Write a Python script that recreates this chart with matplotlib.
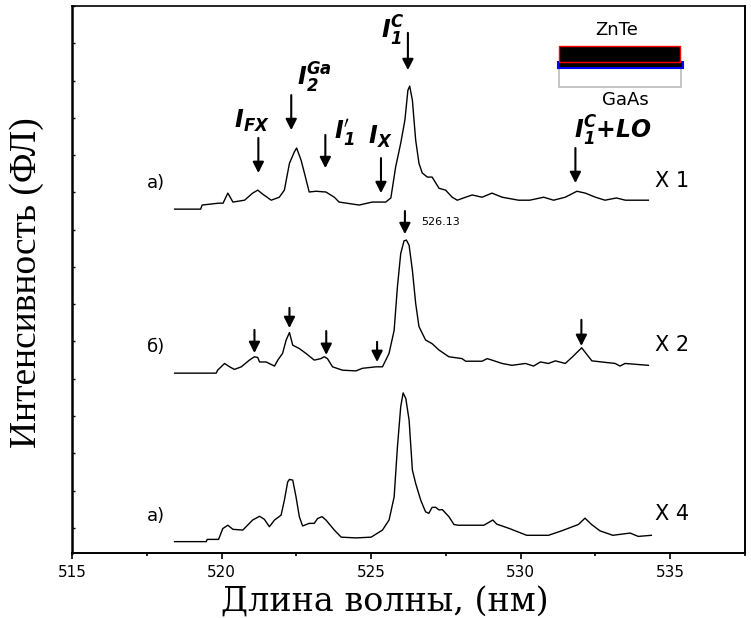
import matplotlib
matplotlib.use("Agg")
import matplotlib.pyplot as plt
from matplotlib.patches import Rectangle
from matplotlib.ticker import MultipleLocator

plt.rcParams['mathtext.fontset'] = 'dejavusans'

# photoluminescence spectra of ZnTe/GaAs, wavelength (nm) vs intensity (arb. units)
top_wl = [518.43, 519.30, 519.35, 519.90, 520.05, 520.21, 520.38, 520.77, 521.04, 521.21,
          521.38, 521.66, 521.93, 522.10, 522.27, 522.43, 522.51, 522.66, 522.77, 522.93,
          523.16, 523.49, 523.77, 523.93, 524.60, 525.04, 525.49, 525.66, 525.82, 525.99,
          526.13, 526.23, 526.29, 526.38, 526.49, 526.60, 526.71, 526.88, 527.04, 527.27,
          527.49, 527.71, 527.88, 528.16, 528.38, 528.71, 529.04, 529.38, 529.93, 530.30,
          530.77, 531.10, 531.49, 531.88, 532.16, 532.50, 532.82, 533.20, 533.50, 534.27]
top_int = [0, 0, 11, 16, 16, 43, 19, 24, 43, 51,
           40, 24, 32, 51, 123, 153, 164, 131, 97, 46,
           48, 46, 32, 19, 11, 19, 19, 30, 113, 177,
           239, 319, 330, 292, 185, 123, 97, 86, 86, 56,
           51, 32, 24, 32, 38, 32, 43, 32, 24, 24,
           32, 24, 32, 48, 43, 32, 24, 30, 24, 24]

mid_wl = [518.43, 519.82, 519.87, 520.10, 520.27, 520.43, 520.66, 520.93, 521.10, 521.21,
          521.27, 521.49, 521.77, 521.88, 522.04, 522.16, 522.27, 522.38, 522.60, 522.82,
          523.10, 523.32, 523.43, 523.54, 523.71, 524.04, 524.49, 524.71, 525.16, 525.38,
          525.60, 525.77, 525.88, 525.99, 526.10, 526.18, 526.27, 526.38, 526.49, 526.60,
          526.82, 527.04, 527.27, 527.60, 528.04, 528.16, 528.71, 528.88, 529.04, 529.38,
          529.71, 530.16, 530.43, 530.66, 530.93, 531.16, 531.49, 531.71, 532.04, 532.38,
          532.71, 533.16, 533.32, 533.49, 534.27]
mid_int = [0, 0, 8, 26, 17, 10, 17, 35, 44, 42,
           30, 30, 19, 35, 53, 89, 109, 75, 66, 53,
           35, 39, 44, 39, 17, 8, 6, 13, 17, 17,
           53, 115, 232, 321, 355, 357, 343, 276, 187, 125,
           89, 79, 62, 44, 39, 32, 32, 39, 35, 26,
           21, 26, 19, 30, 26, 33, 26, 42, 68, 33,
           30, 26, 19, 26, 21]

bot_wl = [518.43, 519.49, 519.52, 519.90, 520.04, 520.21, 520.38, 520.71, 520.93, 521.04,
          521.27, 521.43, 521.60, 521.77, 521.99, 522.10, 522.21, 522.27, 522.38, 522.49,
          522.60, 522.71, 522.93, 523.10, 523.21, 523.36, 523.49, 523.77, 524.00, 524.50,
          525.00, 525.38, 525.60, 525.77, 525.88, 525.99, 526.07, 526.16, 526.27, 526.38,
          526.49, 526.66, 526.82, 526.93, 527.04, 527.16, 527.27, 527.38, 527.60, 527.77,
          527.90, 528.77, 529.07, 529.20, 529.63, 530.20, 530.93, 531.37, 531.93, 532.15,
          532.37, 532.65, 533.08, 533.66, 533.93, 534.37]
bot_int = [0, 0, 6, 6, 35, 44, 33, 31, 49, 58,
           68, 60, 40, 58, 71, 111, 160, 167, 165, 120,
           67, 42, 49, 49, 62, 67, 58, 31, 12, 10,
           12, 31, 58, 120, 254, 362, 399, 384, 326, 192,
           156, 111, 80, 76, 92, 92, 85, 86, 67, 46,
           44, 44, 58, 47, 35, 17, 17, 29, 46, 63,
           46, 29, 17, 23, 14, 17]

offsets = [855, 415, -37]
sample_labels = ['а)', 'б)', 'а)']
scale_labels = ['X 1', 'X 2', 'X 4']

# peak assignments on the upper spectrum
line_names = [r'$\mathbfit{I}_{\mathbfit{FX}}$', r'$\mathbfit{I}_{\mathbfit{2}}^{\mathbfit{Ga}}$',
              r'$\mathbfit{I}_{\mathbfit{1}}^{\prime}$', r'$\mathbfit{I}_{\mathbfit{X}}$',
              r'$\mathbfit{I}_{\mathbfit{1}}^{\mathbfit{C}}$',
              r'$\mathbfit{I}_{\mathbfit{1}}^{\mathbfit{C}}\mathbfit{+LO}$']
line_wl = [521.23, 522.33, 523.47, 525.33, 526.23, 531.83]
mid_arrow_wl = [521.10, 522.27, 523.50, 525.20, 532.03]
main_peak = 526.13

fig = plt.figure(figsize=(7.51, 6.18), dpi=100)
ax = fig.add_axes([72 / 751, 65 / 618, 673 / 751, 547 / 618])

spectra = [(top_wl, top_int), (mid_wl, mid_int), (bot_wl, bot_int)]
for (wl, inten), off in zip(spectra, offsets):
    ax.plot(wl, [v + off for v in inten], color='black', lw=1.0)

for off, lab, sc in zip(offsets, sample_labels, scale_labels):
    ax.text(518.1, off + 70, lab, ha='right', va='center', fontsize=13,
            family='DejaVu Sans')
    ax.text(535.05, off + 75, sc, ha='center', va='center', fontsize=15,
            family='DejaVu Sans')

arrow_style = dict(arrowstyle='-|>,head_length=0.65,head_width=0.33', color='black',
                   lw=1.5, shrinkA=0, shrinkB=0)

# arrows and labels of the upper spectrum: (tail, tip, label x, label y)
top_geom = [(1046, 952, 521.03, 1092), (1161, 1067, 523.10, 1207),
            (1054, 965, 524.10, 1059), (992, 898, 525.30, 1049),
            (1328, 1228, 525.73, 1333), (1019, 925, 533.10, 1065)]
for wl, name, (tail, tip, lx, ly) in zip(line_wl, line_names, top_geom):
    ax.annotate('', xy=(wl, tip), xytext=(wl, tail), arrowprops=arrow_style)
    ax.text(lx, ly, name, ha='center', va='center', fontsize=17)

mid_geom = [(531, 469), (590, 536), (528, 464), (499, 445), (558, 488)]
for wl, (tail, tip) in zip(mid_arrow_wl, mid_geom):
    ax.annotate('', xy=(wl, tip), xytext=(wl, tail), arrowprops=arrow_style)

ax.annotate('', xy=(main_peak, 788), xytext=(main_peak, 850), arrowprops=arrow_style)
ax.text(526.67, 821, f'{main_peak:.2f}', ha='left', va='center', fontsize=8,
        family='DejaVu Sans')

# layer sketch: ZnTe film on GaAs substrate
ax.add_patch(Rectangle((0.7236, 0.8519), 0.1813, 0.0347, transform=ax.transAxes,
                       facecolor='white', edgecolor='#bbbbbb', lw=1.2))
ax.add_patch(Rectangle((0.7221, 0.8867), 0.1857, 0.0110, transform=ax.transAxes,
                       facecolor='black', edgecolor='blue', lw=1.5))
ax.add_patch(Rectangle((0.7236, 0.8976), 0.1798, 0.0293, transform=ax.transAxes,
                       facecolor='black', edgecolor='red', lw=1.0))
ax.text(0.81, 0.956, 'ZnTe', transform=ax.transAxes, ha='center', va='center',
        fontsize=13, family='DejaVu Sans')
ax.text(0.822, 0.828, 'GaAs', transform=ax.transAxes, ha='center', va='center',
        fontsize=13, family='DejaVu Sans')

ax.set_xlim(515, 537.5)
ax.set_ylim(-67.5, 1400)
ax.xaxis.set_major_locator(MultipleLocator(5))
ax.xaxis.set_minor_locator(MultipleLocator(2.5))
ax.yaxis.set_major_locator(MultipleLocator(100))
ax.tick_params(axis='x', which='major', direction='out', length=4.3, width=1.2, pad=4,
               labelsize=11)
ax.tick_params(axis='x', which='minor', direction='out', length=2.2, width=1.2)
ax.tick_params(axis='y', which='major', direction='in', length=1.8, width=1.0,
               labelleft=False)
for lab in ax.get_xticklabels():
    lab.set_family('DejaVu Sans')

ax.spines['left'].set_linewidth(1.8)
ax.spines['bottom'].set_linewidth(1.4)
ax.spines['top'].set_linewidth(1.2)
ax.spines['right'].set_linewidth(1.4)

ax.set_xlabel('Длина волны, (нм)', family='DejaVu Serif', fontsize=24)
ax.xaxis.set_label_coords(0.465, -0.09)
ax.xaxis.label.set_va('center')
ax.set_ylabel('Интенсивность (ФЛ)', family='Liberation Serif', fontsize=27)
ax.yaxis.set_label_coords(-0.067, 0.494)
ax.yaxis.label.set_va('center')

fig.savefig('out.png', dpi=100)
